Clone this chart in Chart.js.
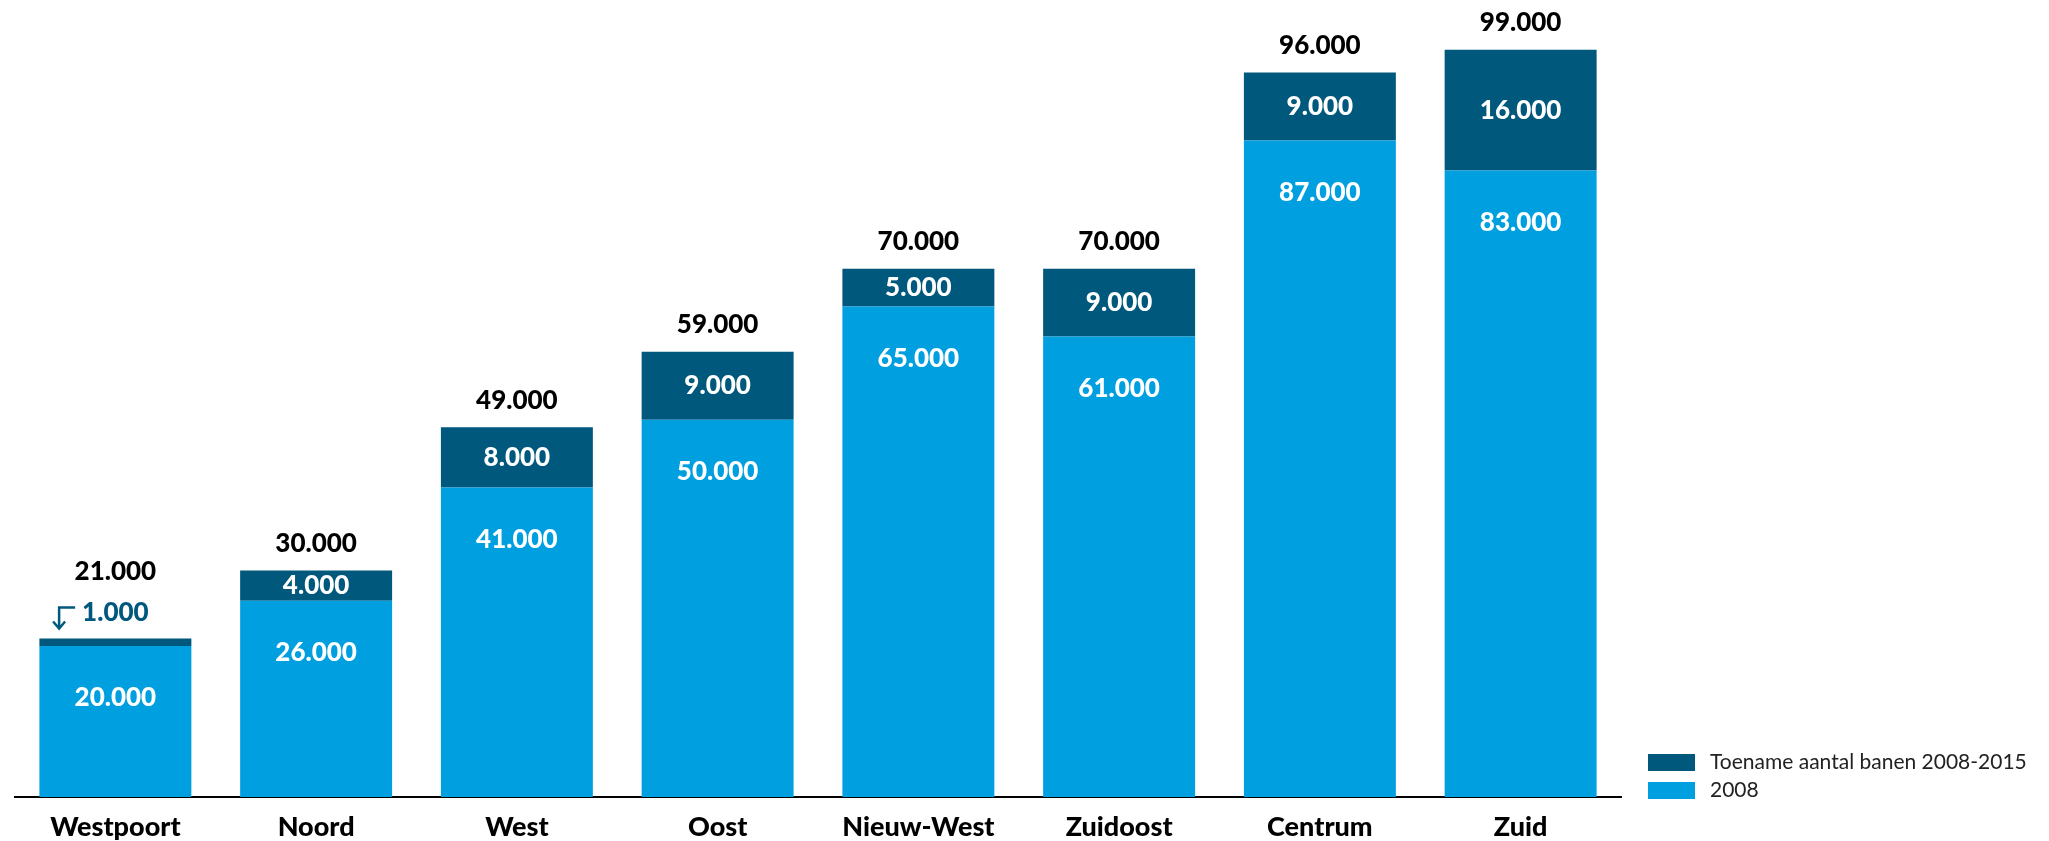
<!DOCTYPE html>
<html>
<head>
<meta charset="utf-8">
<script src="https://cdn.jsdelivr.net/npm/chart.js@4/dist/chart.umd.min.js"></script>
<style>
  body { margin: 0; background: #fff; }
  #wrap { width: 2049px; height: 841px; }
</style>
</head>
<body>
<div id="wrap"><canvas id="chart"></canvas></div>
<script>
const stadsdelen = ['Westpoort', 'Noord', 'West', 'Oost', 'Nieuw-West', 'Zuidoost', 'Centrum', 'Zuid'];
const banen2008 = [20000, 26000, 41000, 50000, 65000, 61000, 87000, 83000];
const toename = [1000, 4000, 8000, 9000, 5000, 9000, 9000, 16000];
const legendLabels = ['Toename aantal banen 2008-2015', '2008'];

const lightBlue = '#009fe0';
const darkBlue = '#00587c';
const fontFam = 'Lato, "Open Sans", sans-serif';

function fmt(v) {
  return v.toLocaleString('nl-NL');
}

// labels in en boven de balken
const labelPlugin = {
  id: 'labels',
  afterDatasetsDraw(chart) {
    const ctx = chart.ctx;
    const m0 = chart.getDatasetMeta(0);
    const m1 = chart.getDatasetMeta(1);
    ctx.save();
    ctx.font = '900 26px ' + fontFam;
    ctx.textAlign = 'center';
    ctx.textBaseline = 'middle';
    m0.data.forEach((el, i) => {
      const top = m1.data[i];
      // 2008
      ctx.fillStyle = '#fff';
      ctx.fillText(fmt(banen2008[i]), el.x, el.y + 52);
      // toename
      const h = top.base - top.y;
      let lift = 27;
      if (h > 22) {
        ctx.fillText(fmt(toename[i]), top.x, (top.y + top.base) / 2);
      } else {
        const txt = fmt(toename[i]);
        const ty = top.y - 26;
        ctx.fillStyle = darkBlue;
        ctx.fillText(txt, top.x, ty);
        const left = top.x - ctx.measureText(txt).width / 2;
        // pijltje
        ctx.strokeStyle = darkBlue;
        ctx.lineWidth = 2.5;
        ctx.beginPath();
        ctx.moveTo(left - 7, ty - 5);
        ctx.lineTo(left - 23, ty - 5);
        ctx.lineTo(left - 23, ty + 16);
        ctx.moveTo(left - 29, ty + 9);
        ctx.lineTo(left - 23, ty + 16);
        ctx.lineTo(left - 17, ty + 9);
        ctx.stroke();
        lift = 67;
      }
      // totaal
      ctx.fillStyle = '#000';
      ctx.fillText(fmt(banen2008[i] + toename[i]), top.x, top.y - lift);
    });
    ctx.restore();
  },
  afterDraw(chart) {
    const ctx = chart.ctx;
    ctx.save();
    ctx.font = '21px ' + fontFam;
    ctx.textBaseline = 'middle';
    ctx.textAlign = 'left';
    const colors = [darkBlue, lightBlue];
    legendLabels.forEach((l, i) => {
      const y = 754 + i * 28;
      ctx.fillStyle = colors[i];
      ctx.fillRect(1648, y, 47, 17);
      ctx.fillStyle = '#222';
      ctx.fillText(l, 1710, y + 8.5);
    });
    ctx.restore();
  }
};

new Chart(document.getElementById('chart'), {
  type: 'bar',
  data: {
    labels: stadsdelen,
    datasets: [
      { label: '2008', data: banen2008, backgroundColor: lightBlue },
      { label: 'Toename aantal banen 2008-2015', data: toename, backgroundColor: darkBlue }
    ]
  },
  options: {
    responsive: true,
    maintainAspectRatio: false,
    animation: false,
    layout: { padding: { left: 15, right: 428, top: 0, bottom: 0 } },
    datasets: { bar: { categoryPercentage: 0.757, barPercentage: 1 } },
    plugins: { legend: { display: false }, tooltip: { enabled: false } },
    scales: {
      x: {
        stacked: true,
        grid: { display: false },
        border: { display: true, color: '#000', width: 2 },
        ticks: { color: '#000', font: { family: fontFam, size: 27, weight: '900' }, padding: 6 },
        afterFit(s) { s.height = 44; }
      },
      y: {
        stacked: true,
        display: false,
        min: 0,
        max: 105600
      }
    }
  },
  plugins: [labelPlugin]
});
</script>
</body>
</html>
